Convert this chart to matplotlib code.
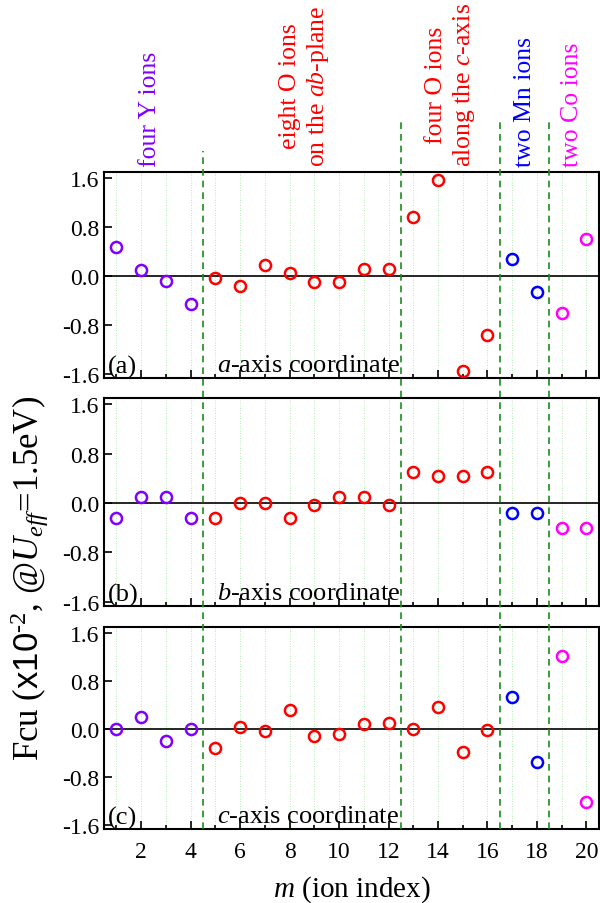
import numpy as np
import matplotlib
matplotlib.use('Agg')
import matplotlib.pyplot as plt
from matplotlib.lines import Line2D
from matplotlib.ticker import MultipleLocator, FormatStrFormatter
import matplotlib.transforms as mtransforms

plt.rcParams['font.family'] = ['Liberation Serif', 'DejaVu Serif']
plt.rcParams['mathtext.fontset'] = 'custom'
plt.rcParams['mathtext.rm'] = 'Liberation Serif'
plt.rcParams['mathtext.it'] = 'Liberation Serif:italic'
plt.rcParams['mathtext.sf'] = 'Liberation Sans'
plt.rcParams['axes.unicode_minus'] = False

# ion index
m = np.arange(1, 21)

# Fcu values (x10^-2) for each coordinate
fcu_a = [0.47, 0.09, -0.08, -0.46, -0.04, -0.17, 0.18, 0.05, -0.10, -0.10,
         0.11, 0.11, 0.97, 1.57, -1.56, -0.96, 0.28, -0.27, -0.60, 0.60]
fcu_b = [-0.25, 0.09, 0.09, -0.25, -0.24, 0.0, 0.0, -0.24, -0.04, 0.09,
         0.10, -0.04, 0.50, 0.43, 0.43, 0.50, -0.16, -0.16, -0.40, -0.40]
fcu_c = [0.0, 0.19, -0.20, 0.0, -0.32, 0.03, -0.04, 0.31, -0.12, -0.08,
         0.08, 0.10, 0.0, 0.37, -0.38, -0.02, 0.54, -0.55, 1.22, -1.22]

# groups of ions
groups = ['four Y ions', 'eight O ions\non the $\\mathit{ab}$-plane',
          'four O ions\nalong the $\\mathit{c}$-axis', 'two Mn ions', 'two Co ions']
group_idx = [(0, 4), (4, 12), (12, 16), (16, 18), (18, 20)]
group_colors = ['#8000ff', '#ff0000', '#ff0000', '#0000ff', '#ff00ff']
group_label_x = [2.35, 8.62, 14.53, 17.5, 19.4]
separators = [4.5, 12.5, 16.5, 18.5]
separator_top = [0.832, 0.864, 0.867, 0.864]

panel_labels = ['(a)', '(b)', '(c)']
panel_titles = ['$\\mathit{a}$-axis coordinate', '$\\mathit{b}$-axis coordinate',
                '$\\mathit{c}$-axis coordinate']

fig = plt.figure(figsize=(6, 9.04), dpi=100)
rects = [[0.1733, 0.5808, 0.8247, 0.2278],
         [0.1733, 0.3285, 0.8247, 0.2301],
         [0.1733, 0.0819, 0.8247, 0.2234]]

axes = []
for i, data in enumerate([fcu_a, fcu_b, fcu_c]):
    ax = fig.add_axes(rects[i])
    data = np.array(data)
    for x in m:
        ax.axvline(x, color='#9be89b', lw=0.6, ls=(0, (1, 2)), zorder=0)
    ax.axhline(0, color='black', lw=1.2, zorder=1)
    for (s, e), c in zip(group_idx, group_colors):
        ax.plot(m[s:e], data[s:e], 'o', mfc='none', mec=c, ms=8, mew=1.8, zorder=3)
    ax.set_xlim(0.5, 20.5)
    ax.set_ylim(-1.67, 1.7)
    ax.yaxis.set_major_locator(MultipleLocator(0.8))
    ax.yaxis.set_major_formatter(FormatStrFormatter('%.1f'))
    ax.xaxis.set_major_locator(MultipleLocator(2))
    ax.xaxis.set_minor_locator(MultipleLocator(1))
    ax.tick_params(axis='both', which='both', direction='in', top=False, right=False,
                   labelsize=17, width=1.2)
    ax.tick_params(axis='both', which='major', length=6)
    ax.tick_params(axis='x', which='minor', length=3)
    ax.tick_params(axis='x', which='major', pad=9)
    for sp in ax.spines.values():
        sp.set_linewidth(1.5)
    if i < 2:
        ax.tick_params(axis='x', labelbottom=False)
    ax.text(0.008, 0.0, panel_labels[i], transform=ax.transAxes, fontsize=19,
            ha='left', va='bottom')
    ax.text(5.05, -1.64, panel_titles[i], fontsize=19, ha='left', va='bottom')
    axes.append(ax)

axes[2].set_xlabel('$\\mathit{m}$ (ion index)', fontsize=21, labelpad=8)
fig.text(0.05, 0.36,
         'Fcu ($\\mathsf{x10}^{\\text{-}2}$, @$\\mathit{U}_{\\mathit{eff}}$=1.5eV)',
         rotation=90, fontsize=25, ha='center', va='center')

# dashed separators crossing all panels
trans = mtransforms.blended_transform_factory(axes[0].transData, fig.transFigure)
for xs, top in zip(separators, separator_top):
    fig.add_artist(Line2D([xs, xs], [0.0819, top], transform=trans, color='#1a8c1a',
                          lw=1.2, ls=(0, (4, 3)), zorder=5))

# group labels on top
for lab, c, xl in zip(groups, group_colors, group_label_x):
    fig.text(xl, 0.8153, lab, transform=trans, rotation=90, color=c, fontsize=18.5,
             ha='center', va='bottom', multialignment='center')

plt.savefig('out.png', dpi=100)
